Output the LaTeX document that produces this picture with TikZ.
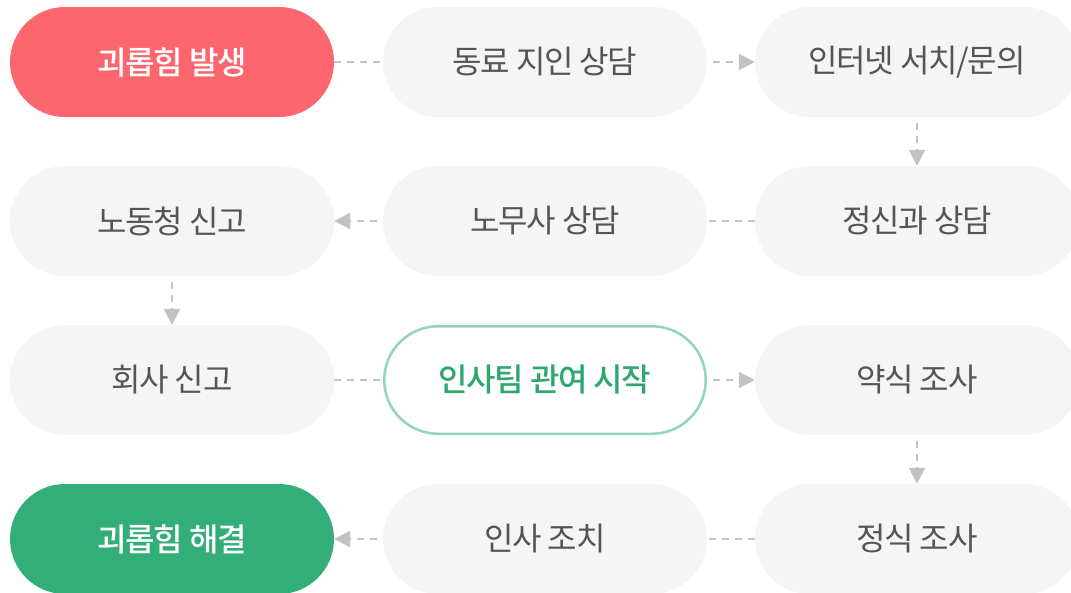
\documentclass[tikz,border=0pt]{standalone}
\usepackage{fontspec}
\setmainfont{Noto Sans CJK KR}[LetterSpace=-4]
\newfontfamily\medfont{Noto Sans CJK KR Medium}[LetterSpace=-4]
\usepackage{tikz}
\usetikzlibrary{arrows.meta}
\definecolor{rfill}{HTML}{FC676F}
\definecolor{gfill}{HTML}{33AE78}
\definecolor{bfill}{HTML}{F5F5F5}
\definecolor{gline}{HTML}{92D6B8}
\definecolor{gtext}{HTML}{2EA86C}
\definecolor{btext}{HTML}{555555}
\definecolor{dline}{HTML}{C2C2C2}
\tikzset{
	box/.style={rounded corners=55pt,minimum width=324pt,minimum height=110pt,inner sep=0pt,font=\fontsize{32}{34}\selectfont},
	bbox/.style={box,fill=bfill,text=btext},
	rbox/.style={box,fill=rfill,text=white,font=\fontsize{32}{34}\medfont},
	gbox/.style={box,fill=gfill,text=white,font=\fontsize{32}{34}\medfont},
	obox/.style={box,fill=white,draw=gline,line width=2.5pt,minimum width=321.5pt,minimum height=107.5pt,rounded corners=53.75pt,text=gtext,font=\fontsize{32}{34}\medfont},
	link/.style={draw=dline,line width=2pt,dash pattern=on 7pt off 6pt},
	arr/.style={link,shorten <=6pt,-{Triangle[length=16pt,width=16pt,fill=dline]}}
}

\begin{document}
\begin{tikzpicture}[x=1pt,y=-1pt]
	\useasboundingbox (0,0) rectangle (1071,592);
	\node [rbox] (start) at (172,62) {괴롭힘 발생};
	\node [bbox] (friend) at (545,62) {동료 지인 상담};
	\node [bbox] (web) at (917,62) {인터넷 서치/문의};

	\node [bbox] (labor) at (172,221) {노동청 신고};
	\node [bbox] (lawyer) at (545,221) {노무사 상담};
	\node [bbox] (psych) at (917,221) {정신과 상담};

	\node [bbox] (company) at (172,380) {회사 신고};
	\node [obox] (hr) at (545,380) {인사팀 관여 시작};
	\node [bbox] (informal) at (917,380) {약식 조사};

	\node [gbox] (end) at (172,539) {괴롭힘 해결};
	\node [bbox] (action) at (545,539) {인사 조치};
	\node [bbox] (formal) at (917,539) {정식 조사};

	\draw [link] (start) -- (friend);
	\draw [arr] (friend) -- (web);
	\draw [arr] (web) -- (psych);
	\draw [link] (psych) -- (lawyer);
	\draw [arr] (lawyer) -- (labor);
	\draw [arr] (labor) -- (company);
	\draw [link] (company) -- (hr);
	\draw [arr] (hr) -- (informal);
	\draw [arr] (informal) -- (formal);
	\draw [link] (formal) -- (action);
	\draw [arr] (action) -- (end);
\end{tikzpicture}
\end{document}
